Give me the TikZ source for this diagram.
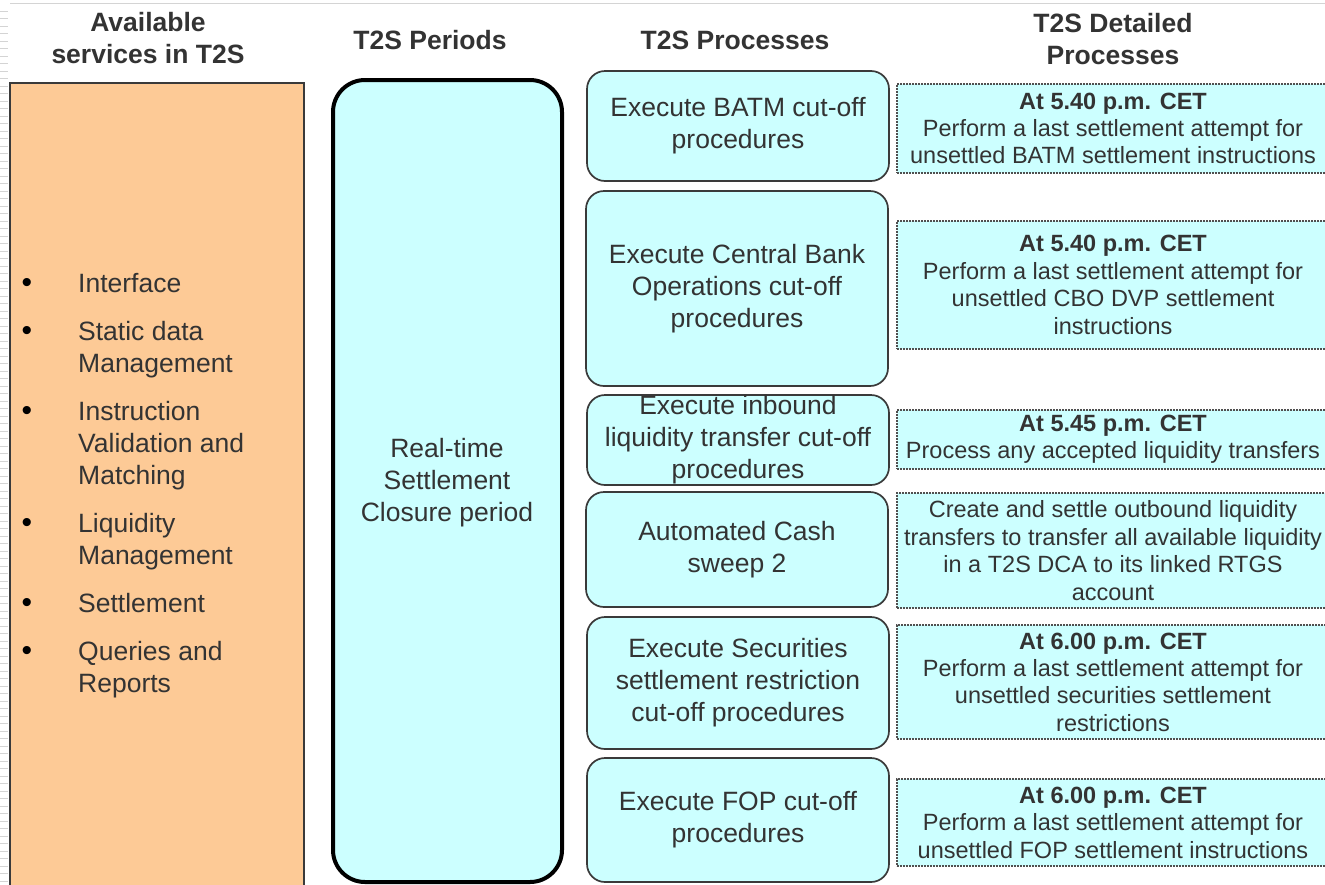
\documentclass[tikz,border=0pt]{standalone}
\usepackage{fontspec}
\setmainfont{Liberation Sans}
\definecolor{orangebg}{HTML}{FDCA96}
\definecolor{cyanbg}{HTML}{CCFFFF}
\definecolor{txt}{HTML}{333333}
\definecolor{procline}{HTML}{3A3A3A}
\definecolor{detline}{HTML}{505050}
\definecolor{artgray}{HTML}{D4D4D4}
\begin{document}
\begin{tikzpicture}[x=1pt,y=-1pt,
  hdr/.style={font=\bfseries\fontsize{26.5}{32}\selectfont, text=txt, align=center, inner sep=0},
  proc/.style={draw=procline, line width=1.7pt, fill=cyanbg, rounded corners=18pt, align=center,
    font=\fontsize{26.5}{32}\selectfont, text=txt, inner sep=0, minimum width=302pt},
  det/.style={draw=detline, line width=1.5pt, dash pattern=on 1.6pt off 1.4pt, fill=cyanbg, align=center,
    font=\fontsize{23.5}{27.4}\selectfont, text=txt, inner sep=0, minimum width=432pt},
  item/.style={anchor=west, align=left, font=\fontsize{26.5}{32}\selectfont, text=txt, inner sep=0},
  bul/.style={font=\fontsize{30}{32}\selectfont, text=black, inner sep=0},
  period/.style={draw=black, line width=4pt, fill=cyanbg, rounded corners=32pt}
]
\useasboundingbox (0,0) rectangle (1325,884);
% artefacts: top rule and left tick marks
\draw[artgray, line width=1pt] (10,3) -- (1325,3);
\foreach \k in {0,...,116} \draw[artgray, line width=0.8pt] (0,{11+7.5*\k}) -- (8,{11+7.5*\k});

% headers
\node[hdr] (h1) at (148,38) {Available\\services in T2S};
\node[hdr] (h2) at (430,40) {T2S Periods};
\node[hdr] (h3) at (735,40) {T2S Processes};
\node[hdr] (h4) at (1113,39) {T2S Detailed\\Processes};

% left services box
\draw[draw=procline, line width=1.2pt, fill=orangebg] (10,83) rectangle (304,900);
\node[bul] (b1) at (27,285) {•};
\node[bul] (b2) at (27,333) {•};
\node[bul] (b3) at (27,413) {•};
\node[bul] (b4) at (27,525) {•};
\node[bul] (b5) at (27,605) {•};
\node[bul] (b6) at (27,653) {•};
\node[item] (s1) at (78,283) {Interface};
\node[item] (s2) at (78,350) {Static data\\Management};
\node[item] (s3) at (78,446) {Instruction\\Validation and\\Matching};
\node[item] (s4) at (78,542) {Liquidity\\Management};
\node[item] (s5) at (78,603) {Settlement};
\node[item] (s6) at (78,670) {Queries and\\Reports};

% period box
\draw[period] (333,80) rectangle (562,882);
\node[font=\fontsize{26.5}{32}\selectfont, text=txt, align=center, inner sep=0] (per) at (447,483)
  {Real-time\\Settlement\\Closure period};

% processes
\node[proc, minimum height=110pt] (p1) at (738,126) {Execute BATM cut-off\\procedures};
\node[proc, minimum height=195pt] (p2) at (737,288.5) {Execute Central Bank\\Operations cut-off\\procedures};
\node[proc, minimum height=90pt] (p3) at (738,440) {Execute inbound\\liquidity transfer cut-off\\procedures};
\node[proc, minimum height=115pt] (p4) at (737,549.5) {Automated Cash\\sweep 2};
\node[proc, minimum height=132pt] (p5) at (738,683) {Execute Securities\\settlement restriction\\cut-off procedures};
\node[proc, minimum height=124pt] (p6) at (738,820) {Execute FOP cut-off\\procedures};

% detailed processes
\node[det, minimum height=89pt] (d1) at (1113,128.5) {\textbf{At 5.40 p.m. CET}\\Perform a last settlement attempt for\\unsettled BATM settlement instructions};
\node[det, minimum height=128pt] (d2) at (1113,285) {\textbf{At 5.40 p.m. CET}\\Perform a last settlement attempt for\\unsettled CBO DVP settlement\\instructions};
\node[det, minimum height=59pt] (d3) at (1113,439.5) {\textbf{At 5.45 p.m. CET}\\Process any accepted liquidity transfers};
\node[det, minimum height=115pt] (d4) at (1113,550.5) {Create and settle outbound liquidity\\transfers to transfer all available liquidity\\in a T2S DCA to its linked RTGS\\account};
\node[det, minimum height=114pt] (d5) at (1113,682) {\textbf{At 6.00 p.m. CET}\\Perform a last settlement attempt for\\unsettled securities settlement\\restrictions};
\node[det, minimum height=87pt] (d6) at (1113,822.5) {\textbf{At 6.00 p.m. CET}\\Perform a last settlement attempt for\\unsettled FOP settlement instructions};
\end{tikzpicture}
\end{document}
